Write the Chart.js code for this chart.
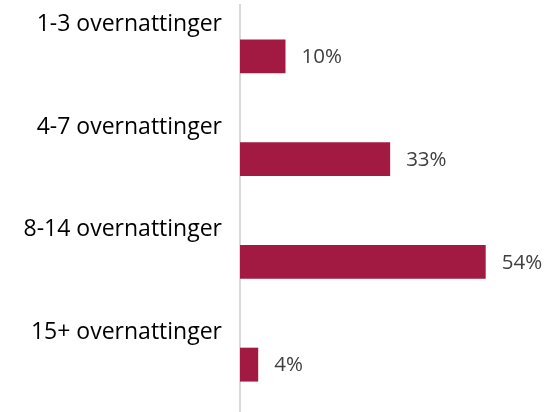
<!DOCTYPE html>
<html>
<head>
<meta charset="utf-8">
<script src="https://cdn.jsdelivr.net/npm/chart.js@4"></script>
<style>
  html, body { margin: 0; padding: 0; background: #fff; overflow: hidden; }
  .wrap { width: 546px; height: 416px; position: relative; }
</style>
</head>
<body>
<div class="wrap"><canvas class="graph"></canvas></div>
<script>
let categories = [
  "1-3 overnattinger",
  "4-7 overnattinger",
  "8-14 overnattinger",
  "15+ overnattinger",
];
let shares = [10, 33, 54, 4];

// value labels to the right of each bar
const valueLabels = {
  id: "valueLabels",
  afterDatasetsDraw(chart) {
    const ctx = chart.ctx;
    const meta = chart.getDatasetMeta(0);
    ctx.save();
    ctx.font = "20.5px 'Open Sans', sans-serif";
    ctx.fillStyle = "#404040";
    ctx.textAlign = "left";
    ctx.textBaseline = "middle";
    meta.data.forEach((bar, i) => {
      ctx.fillText(`${shares[i]}%`, bar.x + 16, bar.y + 1);
    });
    ctx.restore();
  },
};

const graph = new Chart(document.querySelector(".graph"), {
  type: "bar",
  data: {
    labels: categories,
    datasets: [
      {
        data: shares,
        backgroundColor: "#A21A42",
        categoryPercentage: 1,
        barPercentage: 0.33,
      },
    ],
  },
  options: {
    indexAxis: "y",
    responsive: true,
    maintainAspectRatio: false,
    animation: false,
    layout: {
      padding: { top: 5, right: 33, bottom: 0, left: 0 },
    },
    plugins: {
      legend: { display: false },
      tooltip: { enabled: false },
    },
    scales: {
      x: {
        display: false,
        min: 0,
        max: 60,
      },
      y: {
        grid: { display: false },
        border: { display: true, color: "#d9d9d9", width: 2 },
        ticks: {
          color: "#000",
          font: { family: "'Open Sans', sans-serif", size: 23 },
          labelOffset: -32,
          padding: 10,
        },
        afterFit(scale) {
          scale.width = 240;
          scale.paddingTop = 0;
          scale.paddingBottom = 0;
        },
      },
    },
  },
  plugins: [valueLabels],
});
</script>
</body>
</html>
